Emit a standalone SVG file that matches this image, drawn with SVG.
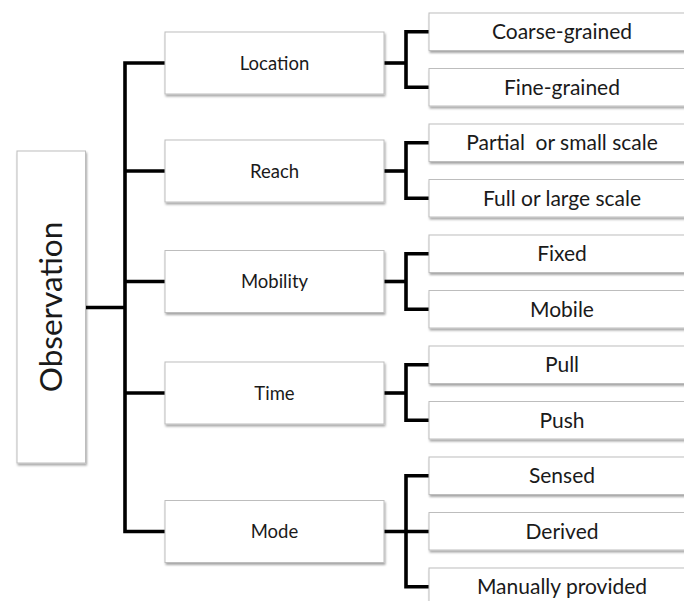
<svg xmlns="http://www.w3.org/2000/svg" width="684" height="601" viewBox="0 0 684 601">
  <defs>
    <filter id="shadow" x="-10%" y="-10%" width="130%" height="140%">
      <feDropShadow dx="1" dy="2" stdDeviation="1.2" flood-color="#000" flood-opacity="0.35"/>
    </filter>
    <style>
      .box { fill: #ffffff; stroke: #bdbdbd; stroke-width: 1; filter: url(#shadow); }
      .lbl { font-family: Lato, "Open Sans", "Liberation Sans", sans-serif; fill: #1a1a1a; text-anchor: middle; }
      .mid { font-size: 18.5px; }
      .leaf { font-size: 21px; }
      .root { font-size: 31.5px; }
      .wire { fill: none; stroke: #000; stroke-width: 3.6; stroke-linejoin: miter; stroke-linecap: butt; }
    </style>
  </defs>

  <rect width="684" height="601" fill="#ffffff"/>

  <!-- connectors -->
  <g id="connectors" class="wire">
    <!-- root to trunk -->
    <path d="M85 307.5 H125"/>
    <!-- trunk and branches to categories -->
    <path d="M165 63 H125 V531.5 H165"/>
    <path d="M125 171 H165"/>
    <path d="M125 281.5 H165"/>
    <path d="M125 393 H165"/>
    <!-- Location -->
    <path d="M384 63 H406"/>
    <path d="M429 31.75 H406 V87.25 H429"/>
    <!-- Reach -->
    <path d="M384 171 H406"/>
    <path d="M429 142.75 H406 V198.25 H429"/>
    <!-- Mobility -->
    <path d="M384 281.5 H406"/>
    <path d="M429 253.75 H406 V309.25 H429"/>
    <!-- Time -->
    <path d="M384 393 H406"/>
    <path d="M429 364.75 H406 V420.25 H429"/>
    <!-- Mode -->
    <path d="M384 531.5 H429"/>
    <path d="M429 475.75 H406 V586.75 H429"/>
  </g>

  <!-- root -->
  <g id="observation">
    <rect class="box" x="17" y="151" width="68.5" height="312"/>
    <text class="lbl root" transform="translate(62.3 307) rotate(-90)">Observation</text>
  </g>

  <!-- categories -->
  <g id="location">
    <rect class="box" x="165" y="32" width="219" height="62"/>
    <text class="lbl mid" x="274.5" y="69.7">Location</text>
  </g>
  <g id="reach">
    <rect class="box" x="165" y="140" width="219" height="62"/>
    <text class="lbl mid" x="274.5" y="177.7">Reach</text>
  </g>
  <g id="mobility">
    <rect class="box" x="165" y="250.5" width="219" height="62"/>
    <text class="lbl mid" x="274.5" y="288.2">Mobility</text>
  </g>
  <g id="time">
    <rect class="box" x="165" y="362" width="219" height="62"/>
    <text class="lbl mid" x="274.5" y="399.7">Time</text>
  </g>
  <g id="mode">
    <rect class="box" x="165" y="500.5" width="219" height="62"/>
    <text class="lbl mid" x="274.5" y="538.2">Mode</text>
  </g>

  <!-- leaves -->
  <g id="coarse-grained">
    <rect class="box" x="429" y="13" width="266" height="37.5"/>
    <text class="lbl leaf" x="562" y="39.3">Coarse-grained</text>
  </g>
  <g id="fine-grained">
    <rect class="box" x="429" y="68.5" width="266" height="37.5"/>
    <text class="lbl leaf" x="562" y="94.8">Fine-grained</text>
  </g>
  <g id="partial">
    <rect class="box" x="429" y="124" width="266" height="37.5"/>
    <text class="lbl leaf" x="562" y="150.3" xml:space="preserve">Partial  or small scale</text>
  </g>
  <g id="full">
    <rect class="box" x="429" y="179.5" width="266" height="37.5"/>
    <text class="lbl leaf" x="562" y="205.8">Full or large scale</text>
  </g>
  <g id="fixed">
    <rect class="box" x="429" y="235" width="266" height="37.5"/>
    <text class="lbl leaf" x="562" y="261.3">Fixed</text>
  </g>
  <g id="mobile">
    <rect class="box" x="429" y="290.5" width="266" height="37.5"/>
    <text class="lbl leaf" x="562" y="316.8">Mobile</text>
  </g>
  <g id="pull">
    <rect class="box" x="429" y="346" width="266" height="37.5"/>
    <text class="lbl leaf" x="562" y="372.3">Pull</text>
  </g>
  <g id="push">
    <rect class="box" x="429" y="401.5" width="266" height="37.5"/>
    <text class="lbl leaf" x="562" y="427.8">Push</text>
  </g>
  <g id="sensed">
    <rect class="box" x="429" y="457" width="266" height="37.5"/>
    <text class="lbl leaf" x="562" y="483.3">Sensed</text>
  </g>
  <g id="derived">
    <rect class="box" x="429" y="512.5" width="266" height="37.5"/>
    <text class="lbl leaf" x="562" y="538.8">Derived</text>
  </g>
  <g id="manually-provided">
    <rect class="box" x="429" y="568" width="266" height="37.5"/>
    <text class="lbl leaf" x="562" y="594.3">Manually provided</text>
  </g>
</svg>
